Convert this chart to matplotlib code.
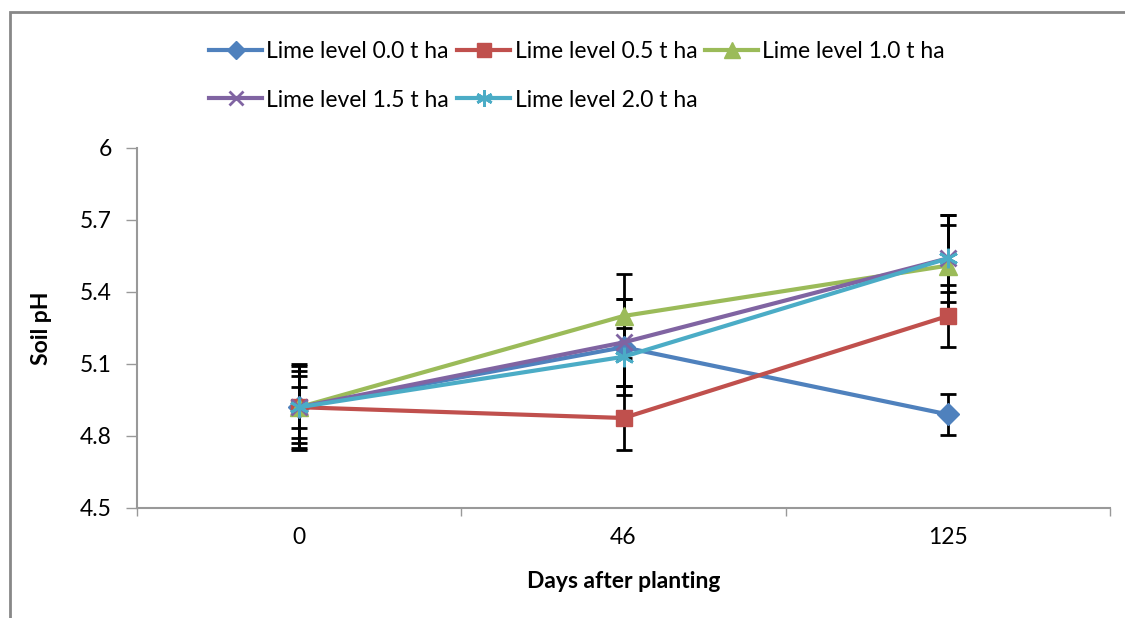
import matplotlib
matplotlib.use("Agg")
import matplotlib.pyplot as plt
from matplotlib.patches import Rectangle

plt.rcParams["font.family"] = ["Lato", "DejaVu Sans"]

DAYS = ["0", "46", "125"]
LABELS = ["Lime level 0.0 t ha", "Lime level 0.5 t ha", "Lime level 1.0 t ha",
          "Lime level 1.5 t ha", "Lime level 2.0 t ha"]

# soil pH per lime level, and the error bar half-widths
PH_00 = [4.92, 5.17, 4.89]
PH_05 = [4.92, 4.875, 5.30]
PH_10 = [4.92, 5.30, 5.51]
PH_15 = [4.92, 5.19, 5.54]
PH_20 = [4.92, 5.13, 5.54]
ERR_00 = [0.18, 0.20, 0.085]
ERR_05 = [0.13, 0.135, 0.13]
ERR_10 = [0.085, 0.175, 0.21]
ERR_15 = [0.17, 0.18, 0.14]
ERR_20 = [0.15, 0.12, 0.18]

COLORS = ["#4F81BD", "#C0504D", "#9BBB59", "#8064A2", "#4BACC6"]
MARKERS = ["D", "s", "^", "x", (6, 2, 0)]
MSIZES = [11, 12, 13, 12, 14]
FS = 16.5

fig = plt.figure(figsize=(11.25, 6.18), dpi=100)
# outer chart frame
fig.patches.append(Rectangle((10 / 1125, -0.05), 1.1, 1 - 12 / 618 + 0.05,
                             transform=fig.transFigure, fill=False,
                             edgecolor="#888888", linewidth=2))

ax = fig.add_axes([137 / 1125, 1 - 508 / 618, (1110 - 137) / 1125, 360 / 618])
x = range(len(DAYS))
series = [PH_00, PH_05, PH_10, PH_15, PH_20]
errs = [ERR_00, ERR_05, ERR_10, ERR_15, ERR_20]

handles = []
for i, (ys, es) in enumerate(zip(series, errs)):
    ax.errorbar(x, ys, yerr=es, fmt="none", ecolor="black", elinewidth=2,
                capsize=6, capthick=2, zorder=2)
    mk = MARKERS[i]
    h, = ax.plot(x, ys, color=COLORS[i], lw=3, marker=mk, ms=MSIZES[i],
                 mew=2 if mk in ("x", (6, 2, 0)) else 1,
                 mec=COLORS[i], zorder=3 + i)
    handles.append(h)

ax.set_ylim(4.5, 6.0)
ax.set_yticks([4.5, 4.8, 5.1, 5.4, 5.7, 6.0])
ax.set_yticklabels(["4.5", "4.8", "5.1", "5.4", "5.7", "6"])
ax.set_xlim(-0.5, 2.5)
ax.set_xticks([-0.5, 0.5, 1.5, 2.5])
ax.set_xticklabels([])
ax.set_xticks([0, 1, 2], minor=True)
ax.set_xticklabels(DAYS, minor=True)
ax.tick_params(axis="x", which="major", length=6, color="#999999", width=1)
ax.tick_params(axis="x", which="minor", length=0, pad=14, labelsize=FS)
ax.tick_params(axis="y", length=8, color="#999999", width=1, labelsize=FS, pad=10)
for s in ("top", "right"):
    ax.spines[s].set_visible(False)
for s in ("left", "bottom"):
    ax.spines[s].set_color("#999999")
    ax.spines[s].set_linewidth(1.5)

ax.set_xlabel("Days after planting", fontsize=FS, fontweight="bold", labelpad=16)
ax.set_ylabel("Soil pH", fontsize=FS, fontweight="bold", labelpad=20)

# row-major order for a 3-column legend
order = [0, 3, 1, 4, 2]
fig.legend([handles[k] for k in order], [LABELS[k] for k in order],
           ncol=3, loc="upper center", bbox_to_anchor=(0.513, 0.967),
           frameon=False, fontsize=FS, handlelength=2.3, handletextpad=0.2,
           columnspacing=0.35, labelspacing=1.2, markerscale=0.85)

fig.savefig("out.png", dpi=100)
